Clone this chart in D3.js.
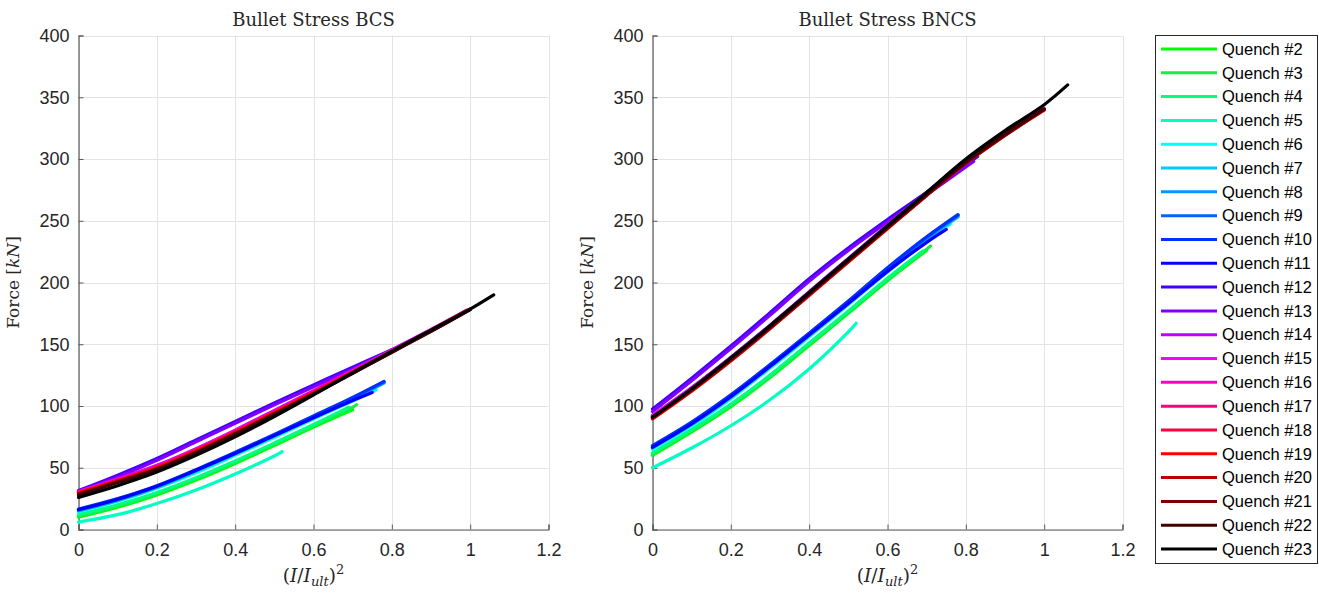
<!DOCTYPE html>
<html>
<head>
<meta charset="utf-8">
<script src="https://cdn.jsdelivr.net/npm/d3@7"></script>
<style>
  body { margin: 0; background: #fff; }
  svg { display: block; }
  .tick text { font-family: "Liberation Sans", Arial, sans-serif; font-size: 18px; fill: #262626; }
  .ttl, .lbl { font-family: "DejaVu Serif", serif; fill: #262626; }
  .leg text { font-family: "Liberation Sans", Arial, sans-serif; font-size: 16.5px; fill: #000; }
</style>
</head>
<body>
<svg id="chart" width="1319" height="595"></svg>
<script>
// quench ids, shown in the legend
const quenches = ['Quench #2', 'Quench #3', 'Quench #4', 'Quench #5', 'Quench #6', 'Quench #7',
  'Quench #8', 'Quench #9', 'Quench #10', 'Quench #11', 'Quench #12', 'Quench #13', 'Quench #14',
  'Quench #15', 'Quench #16', 'Quench #17', 'Quench #18', 'Quench #19', 'Quench #20', 'Quench #21',
  'Quench #22', 'Quench #23'];

const colors = ['#00ff00', '#18ec48', '#00ff80', '#00ffc0', '#00ffff', '#00c8ff', '#0096ff', '#0064ff',
  '#0032ff', '#0000ff', '#4000ff', '#8000ff', '#bf00ff', '#ff00ff', '#ff00bf', '#ff0080', '#ff0040',
  '#ff0000', '#bf0000', '#800000', '#400000', '#000000'];

// (I/I_ult)^2 sample points; each curve uses the ones below its end, then its end
const xGrid = [0, 0.1, 0.2, 0.3, 0.4, 0.5, 0.6, 0.7, 0.8, 0.9, 1.0];
const xEnd = [0.70, 0.71, 0.69, 0.52, 0.76, 0.78, 0.78, 0.78, 0.78, 0.75, 0.83, 0.82,
  0.99, 1.0, 0.98, 1.0, 1.0, 1.0, 0.99, 1.0, 1.0, 1.06];

// force [kN], bullet stress BCS
const bcsForce = [
  [10, 18, 28, 40, 53.5, 68, 83, 97],
  [11, 19, 29, 41, 54.5, 69, 84, 99, 101],
  [12, 20, 30, 42, 55.5, 70, 85, 99],
  [6, 12, 21, 32, 45, 59.5, 63],
  [14.5, 23, 33.5, 46, 60, 74.5, 89.5, 104, 113],
  [15, 23.5, 34, 47, 61, 75.5, 90.5, 105.5, 118.5],
  [15.5, 24, 34.5, 47.5, 61.5, 76, 91, 106, 119],
  [16, 24.5, 35, 48, 62, 76.5, 91.5, 106.5, 119.5],
  [16.5, 25, 35.5, 48.5, 62.5, 77, 92, 107, 120],
  [16, 24.5, 35, 48, 61.5, 76, 90.5, 104.5, 111],
  [31.5, 44, 57.5, 72.5, 87.5, 102.5, 117, 131.5, 145.5, 149.5],
  [30.5, 42.5, 56, 71, 86, 101, 115.5, 130, 144.5, 147.5],
  [31, 41, 52, 65.5, 80.5, 96.5, 112.5, 129, 145.5, 162, 177.5],
  [30.5, 40.5, 51.5, 65, 80, 96, 112, 128.5, 145, 161.5, 178.5],
  [30.5, 40.5, 51, 64.5, 79.5, 95.5, 111.5, 128, 144.5, 161, 175.5],
  [30, 40, 51, 64.5, 79.5, 95.5, 111.5, 128, 144.5, 161.5, 178.5],
  [30, 39.5, 50.5, 64, 79, 95, 111, 127.5, 144.5, 161.5, 178.5],
  [29.5, 39.5, 50, 63.5, 78.5, 94.5, 110.5, 127, 144, 161, 178.5],
  [29, 39, 49.5, 63, 78, 94, 110, 127, 144, 161, 177],
  [28.5, 38.5, 49, 62.5, 77.5, 93.5, 110, 126.5, 143.5, 160.5, 178],
  [28, 38, 48.5, 62, 77, 93, 109.5, 126.5, 143.5, 160.5, 178],
  [26, 35.5, 46.5, 60, 75, 91.5, 109, 127, 144.5, 161.5, 178.5, 190]
];

// force [kN], bullet stress BNCS
const bncsForce = [
  [60, 79, 99.5, 123, 149, 175, 201.5, 226],
  [61, 80, 100.5, 124, 150, 176, 202.5, 227, 229.5],
  [62, 81, 101.5, 125, 151, 177, 203.5, 225.5],
  [50, 66, 84, 105, 130, 160, 167],
  [65, 84, 106, 130.5, 156, 182, 208.5, 233.5, 247.5],
  [66, 85, 107, 131.5, 157, 183, 210, 235, 253],
  [67, 86, 108, 132.5, 158, 184, 211, 236, 254],
  [67.5, 86.5, 108.5, 133, 158.5, 184.5, 211.5, 236.5, 254.5],
  [68, 87, 109, 133.5, 159, 185, 212, 237, 255],
  [66.5, 85.5, 107.5, 132, 157.5, 183, 209, 232.5, 243],
  [97.5, 122.5, 148.5, 175.5, 203, 228, 251, 273, 295, 302],
  [95.5, 120.5, 146.5, 173.5, 201, 226, 249, 271, 293.5, 298],
  [92.5, 115, 139.5, 165.5, 192.5, 219.5, 246.5, 273, 299, 321.5, 341.5],
  [92, 114.5, 139, 165, 192, 219, 246, 272.5, 298.5, 321, 341],
  [91.5, 114, 138.5, 164.5, 191.5, 218.5, 245.5, 272, 298, 320.5, 339],
  [91, 113.5, 138, 164, 191, 218, 245, 271.5, 297.5, 320, 340.5],
  [90.5, 113, 137.5, 163.5, 190.5, 217.5, 244.5, 271, 297, 319.5, 340],
  [89.5, 112, 136.5, 162.5, 189.5, 216.5, 243.5, 270.5, 296.5, 319, 339.5],
  [90, 112.5, 137, 163, 190, 217, 244, 270.5, 296.5, 319, 338.5],
  [90.5, 113, 137.5, 163.5, 190.5, 217.5, 244.5, 271, 297, 319.5, 340],
  [91, 113.5, 138, 164, 191, 218, 245, 271.5, 297.5, 320, 340.5],
  [91, 114, 139, 165, 192, 219, 246, 273, 300, 323, 344, 360]
];

const xTicks = [0, 0.2, 0.4, 0.6, 0.8, 1, 1.2];
const yTicks = [0, 50, 100, 150, 200, 250, 300, 350, 400];

const svg = d3.select('#chart');
const plotTop = 35.5, plotBottom = 529.5, plotW = 470;

// build [x, y] points for curve i
function curvePoints(ys, i) {
  const xs = xGrid.filter(x => x < xEnd[i] - 1e-9);
  const pts = xs.map((x, k) => [x, ys[k]]);
  pts.push([xEnd[i], ys[ys.length - 1]]);
  return pts;
}

function drawPanel(left, title, data) {
  const x = d3.scaleLinear().domain([0, 1.2]).range([left, left + plotW]);
  const y = d3.scaleLinear().domain([0, 400]).range([plotBottom, plotTop]);
  const g = svg.append('g');

  // grid
  g.append('g').selectAll('line').data(xTicks).join('line')
    .attr('x1', d => Math.round(x(d)) + 0.5).attr('x2', d => Math.round(x(d)) + 0.5)
    .attr('y1', plotTop).attr('y2', plotBottom)
    .attr('stroke', '#e3e3e3').attr('stroke-width', 1);
  g.append('g').selectAll('line').data(yTicks).join('line')
    .attr('y1', d => Math.round(y(d)) + 0.5).attr('y2', d => Math.round(y(d)) + 0.5)
    .attr('x1', left).attr('x2', left + plotW)
    .attr('stroke', '#e3e3e3').attr('stroke-width', 1);

  // axes, ticks pointing inward like matlab
  const xAxis = g.append('g')
    .attr('transform', `translate(0,${plotBottom})`)
    .call(d3.axisBottom(x).tickValues(xTicks).tickSize(-5).tickPadding(14).tickFormat(d3.format('~g')));
  const yAxis = g.append('g')
    .attr('transform', `translate(${left},0)`)
    .call(d3.axisLeft(y).tickValues(yTicks).tickSize(-5).tickPadding(9));
  [xAxis, yAxis].forEach(a => {
    a.select('.domain').attr('stroke', '#5a5a5a').attr('stroke-width', 1.2);
    a.selectAll('.tick line').attr('stroke', '#5a5a5a');
  });
  xAxis.selectAll('.tick text').attr('dy', '0.71em');

  // curves
  const line = d3.line()
    .x(d => x(d[0])).y(d => y(d[1]))
    .curve(d3.curveCatmullRom.alpha(0.5));
  g.append('g').selectAll('path').data(data).join('path')
    .attr('d', (d, i) => line(curvePoints(d, i)))
    .attr('fill', 'none')
    .attr('stroke', (d, i) => colors[i])
    .attr('stroke-width', 3.2)
    .attr('stroke-linecap', 'round');

  // title and labels
  g.append('text').attr('class', 'ttl')
    .attr('x', left + plotW / 2).attr('y', 26)
    .attr('text-anchor', 'middle').attr('font-size', 18)
    .text(title);

  const xl = g.append('text').attr('class', 'lbl')
    .attr('x', left + plotW / 2).attr('y', 582)
    .attr('text-anchor', 'middle').attr('font-size', 18.5);
  xl.append('tspan').text('(');
  xl.append('tspan').attr('font-style', 'italic').text('I');
  xl.append('tspan').text('/');
  xl.append('tspan').attr('font-style', 'italic').text('I');
  xl.append('tspan').attr('font-style', 'italic').attr('font-size', 13).attr('dy', 4).text('ult');
  xl.append('tspan').attr('dy', -4).text(')');
  xl.append('tspan').attr('font-size', 13).attr('dy', -8).text('2');

  const yl = g.append('text').attr('class', 'lbl')
    .attr('transform', `translate(${left - 60},${(plotTop + plotBottom) / 2}) rotate(-90)`)
    .attr('text-anchor', 'middle').attr('font-size', 17);
  yl.append('tspan').text('Force [');
  yl.append('tspan').attr('font-style', 'italic').text('kN');
  yl.append('tspan').text(']');
}

drawPanel(78.5, 'Bullet Stress BCS', bcsForce);
drawPanel(652.5, 'Bullet Stress BNCS', bncsForce);

// legend
const leg = svg.append('g').attr('class', 'leg');
leg.append('rect')
  .attr('x', 1155.5).attr('y', 35.5).attr('width', 162).attr('height', 528)
  .attr('fill', '#fff').attr('stroke', '#262626').attr('stroke-width', 1);
const rowY = d3.scalePoint().domain(quenches).range([49, 549]);
const rows = leg.selectAll('g.row').data(quenches).join('g').attr('class', 'row')
  .attr('transform', d => `translate(0,${rowY(d)})`);
rows.append('line')
  .attr('x1', 1161).attr('x2', 1217).attr('y1', 0).attr('y2', 0)
  .attr('stroke', (d, i) => colors[i]).attr('stroke-width', 3);
rows.append('text')
  .attr('x', 1222).attr('y', 0).attr('dy', '0.35em')
  .text(d => d);
</script>
</body>
</html>
